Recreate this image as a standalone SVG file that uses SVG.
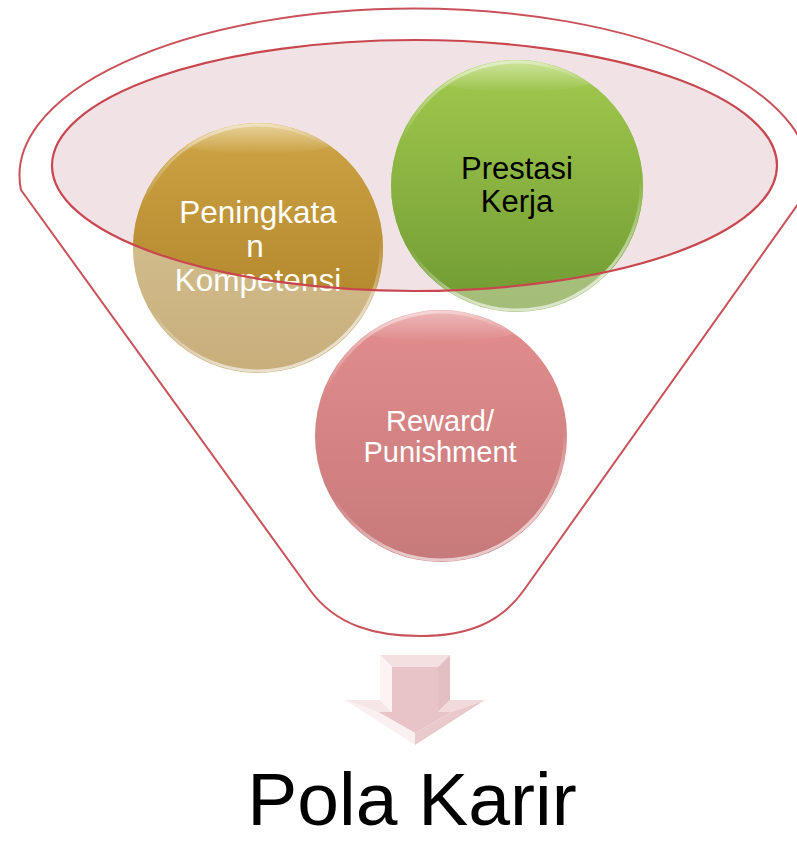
<svg xmlns="http://www.w3.org/2000/svg" width="797" height="841" viewBox="0 0 797 841">
<style>
.lbl{font-family:"Liberation Sans",Arial,sans-serif;text-anchor:middle}
.w{fill:#ffffff}
.k{fill:#000000}
.rim{fill:none;stroke:#c8474f;stroke-width:2.2}
</style>
<defs>
<clipPath id="inE"><ellipse cx="414.5" cy="165.5" rx="362.5" ry="125.5"/></clipPath>
<clipPath id="cGold"><circle cx="258" cy="248" r="125"/></clipPath>
<clipPath id="cGreen"><circle cx="517" cy="186" r="126"/></clipPath>
<clipPath id="cPink"><circle cx="441" cy="436" r="126"/></clipPath>
<linearGradient id="goldIn" x1="0" y1="0" x2="0" y2="1">
<stop offset="0" stop-color="#d9b65e"/><stop offset="0.12" stop-color="#c99f41"/><stop offset="1" stop-color="#aa7e25"/>
</linearGradient>
<linearGradient id="goldOut" x1="0" y1="0" x2="0" y2="1">
<stop offset="0" stop-color="#dcc89a"/><stop offset="1" stop-color="#c7ae7b"/>
</linearGradient>
<linearGradient id="greenIn" x1="0" y1="0" x2="0" y2="1">
<stop offset="0" stop-color="#aed25e"/><stop offset="0.12" stop-color="#9cc44b"/><stop offset="1" stop-color="#6f9a32"/>
</linearGradient>
<linearGradient id="greenOut" x1="0" y1="0" x2="0" y2="1">
<stop offset="0" stop-color="#b9d28c"/><stop offset="1" stop-color="#a3bd78"/>
</linearGradient>
<linearGradient id="pinkG" x1="0" y1="0" x2="0" y2="1">
<stop offset="0" stop-color="#e28d8d"/><stop offset="1" stop-color="#c77a7b"/>
</linearGradient>
<linearGradient id="rimG" x1="0" y1="0" x2="0.3" y2="1">
<stop offset="0" stop-color="#ffffff" stop-opacity="0.7"/><stop offset="0.3" stop-color="#ffffff" stop-opacity="0"/><stop offset="0.7" stop-color="#ffffff" stop-opacity="0"/><stop offset="1" stop-color="#ffffff" stop-opacity="0.6"/>
</linearGradient>
<linearGradient id="glossG" x1="0" y1="0" x2="0" y2="1">
<stop offset="0" stop-color="#ffffff" stop-opacity="0.4"/><stop offset="1" stop-color="#ffffff" stop-opacity="0"/>
</linearGradient>
</defs>
<rect width="797" height="841" fill="#ffffff"/>

<g id="funnel">
<path d="M 21 190 L 310 590 C 336 626 376 636 420 636 C 466 636 500 624 524 590 L 808 190 A 395 167 0 1 0 21 190 Z" fill="#ffffff" stroke="#c9525a" stroke-width="2"/>
<ellipse cx="414.5" cy="165.5" rx="362.5" ry="125.5" fill="#f1e3e5"/>
</g>

<g id="node-peningkatan">
<circle cx="258" cy="248" r="125" fill="url(#goldOut)"/>
<circle cx="258" cy="248" r="125" fill="url(#goldIn)" clip-path="url(#inE)"/>
<ellipse cx="258" cy="138" rx="85" ry="16" fill="url(#glossG)" clip-path="url(#cGold)"/>
<circle cx="258" cy="248" r="123" fill="none" stroke="url(#rimG)" stroke-width="3"/>
<text class="lbl w" font-size="31.5"><tspan x="258" y="223">Peningkata</tspan><tspan x="255" y="257">n</tspan><tspan x="258" y="291">Kompetensi</tspan></text>
</g>

<g id="node-prestasi">
<circle cx="517" cy="186" r="126" fill="url(#greenOut)"/>
<circle cx="517" cy="186" r="126" fill="url(#greenIn)" clip-path="url(#inE)"/>
<ellipse cx="517" cy="76" rx="85" ry="16" fill="url(#glossG)" clip-path="url(#cGreen)"/>
<circle cx="517" cy="186" r="124" fill="none" stroke="url(#rimG)" stroke-width="3"/>
<text class="lbl k" font-size="31"><tspan x="517" y="179">Prestasi</tspan><tspan x="517" y="212">Kerja</tspan></text>
</g>

<g id="node-reward">
<circle cx="441" cy="436" r="126" fill="url(#pinkG)"/>
<ellipse cx="441" cy="326" rx="85" ry="16" fill="url(#glossG)" clip-path="url(#cPink)"/>
<circle cx="441" cy="436" r="124" fill="none" stroke="url(#rimG)" stroke-width="3"/>
<text class="lbl w" font-size="29"><tspan x="440" y="431">Reward/</tspan><tspan x="440" y="462">Punishment</tspan></text>
</g>

<g id="funnel-rim">
<ellipse class="rim" cx="414.5" cy="165.5" rx="362.5" ry="125.5"/>
</g>

<g id="connectors">
<g id="arrow">
<polygon points="392,667 438,667 438,712 452,712 415,733 378,712 392,712" fill="#e8c4c8"/>
<polygon points="380,655 450,655 438,667 392,667" fill="#f4dfe1"/>
<polygon points="450,655 450,700 438,712 438,667" fill="#e3bec2"/>
<polygon points="450,700 485,700 452,712 438,712" fill="#f2dadc"/>
<polygon points="485,700 415,745 415,733 452,712" fill="#e9c9cc"/>
<polygon points="415,745 345,700 378,712 415,733" fill="#fbf0f1"/>
<polygon points="345,700 380,700 392,712 378,712" fill="#f6e6e7"/>
<polygon points="380,700 380,655 392,667 392,712" fill="#fcf3f4"/>
</g>
</g>

<g id="node-pola-karir">
<text class="lbl k" x="412" y="825" font-size="75">Pola Karir</text>
</g>
</svg>
